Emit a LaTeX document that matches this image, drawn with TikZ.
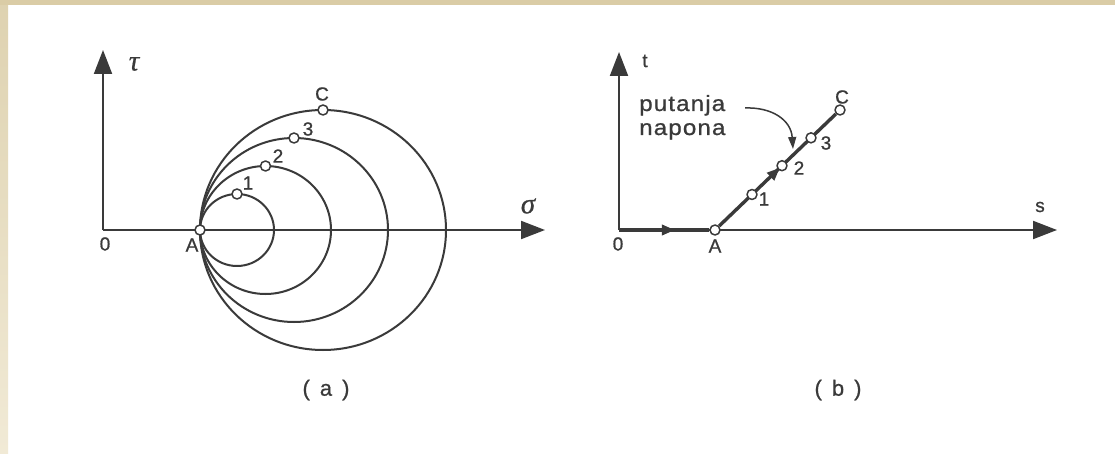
\documentclass[tikz,border=0pt]{standalone}
\usepackage{fontspec}
\setmainfont{Liberation Sans}
\newfontfamily\grkfont{Liberation Serif}
\usetikzlibrary{arrows.meta,decorations.markings,calc}
\definecolor{ink}{RGB}{58,58,58}
\definecolor{beigeTop}{RGB}{218,204,166}
\definecolor{beigeL1}{RGB}{222,210,176}
\definecolor{beigeL2}{RGB}{241,234,214}
\begin{document}
\begin{tikzpicture}[x=1pt,y=-1pt,line join=round,
  axis/.style={draw=ink,line width=2pt,-{Triangle[length=24pt,width=18pt]}},
  curve/.style={draw=ink,line width=2pt},
  spath/.style={draw=ink,line width=3.4pt},
  midarrow/.style={postaction={decorate},decoration={markings,
      mark=at position #1 with {\arrow{Triangle[length=13pt,width=10pt]}}}},
  marker/.style={circle,draw=ink,fill=white,line width=1.5pt,minimum size=10pt,inner sep=0pt},
  lbl/.style={text=ink,font=\fontsize{19}{22}\selectfont\addfontfeature{FakeBold=0.8},inner sep=0pt},
  glbl/.style={text=ink,font=\grkfont\itshape\fontsize{29}{32}\selectfont\addfontfeature{FakeBold=0.6},inner sep=0pt},
  captxt/.style={text=ink,font=\fontsize{22}{26}\selectfont\addfontfeature{FakeBold=0.8},inner sep=0pt},
  note/.style={text=ink,font=\fontsize{22}{26}\selectfont\addfontfeature{LetterSpace=5,FakeStretch=1.1,FakeBold=0.8},inner sep=0pt,anchor=base west},
  thinarrow/.style={draw=ink,line width=1.5pt,-{Triangle[length=12pt,width=8pt]}}]
% background and border
\useasboundingbox (0,0) rectangle (1115,454);
\fill[white] (0,0) rectangle (1115,454);
\shade[top color=beigeL1,bottom color=beigeL2] (0,0) rectangle (8,454);
\fill[beigeTop] (0,0) rectangle (1115,5);

% ---------- (a) ----------
\coordinate (O1) at (103,230);
\coordinate (tauTip) at (103,50);
\coordinate (sigTip) at (545,230);
\draw[curve] (237,230) ellipse [x radius=37pt, y radius=36pt];
\draw[curve] (265.5,230) ellipse [x radius=65.5pt, y radius=64pt];
\draw[curve] (294,230) ellipse [x radius=94pt, y radius=92pt];
\draw[curve] (323,230) ellipse [x radius=123pt, y radius=120pt];
\draw[axis] (O1) -- (tauTip);
\draw[axis] (O1) -- (sigTip);
\node[marker] (A1) at (200,230) {};
\node[marker] (a1) at (237,194) {};
\node[marker] (a2) at (265.5,166) {};
\node[marker] (a3) at (294,138) {};
\node[marker] (aC) at (323,110) {};
\node[glbl] (tau) at (134,64) {τ};
\node[glbl] (sigma) at (528,206) {σ};
\node[lbl] (zeroA) at (105,244) {0};
\node[lbl] (labA1) at (192,245) {A};
\node[lbl] (lab1a) at (248,183) {1};
\node[lbl] (lab2a) at (278,156) {2};
\node[lbl] (lab3a) at (308,129) {3};
\node[lbl] (labCa) at (322,94) {C};
\node[captxt] (capa) at (326,390) {(\hspace{10pt}a\hspace{10pt})};

% ---------- (b) ----------
\coordinate (O2) at (619,230);
\coordinate (tTip) at (619,52);
\coordinate (sTip) at (1057,230);
\draw[axis] (O2) -- (tTip);
\draw[axis] (O2) -- (sTip);
\node[marker] (A2) at (715,230) {};
\node[marker] (C2) at (840,110) {};
\draw[spath,midarrow=0.62] (O2) -- (A2);
\draw[spath,midarrow=0.52] (A2) -- (C2);
\node[marker] (b1) at ($(A2)!0.296!(C2)$) {};
\node[marker] (b2) at ($(A2)!0.536!(C2)$) {};
\node[marker] (b3) at ($(A2)!0.768!(C2)$) {};
\node[lbl] (tlab) at (645,61) {t};
\node[lbl] (slab) at (1040,207) {s};
\node[lbl] (zeroB) at (618,244) {0};
\node[lbl] (labA2) at (715,246) {A};
\node[lbl] (lab1b) at (764,199) {1};
\node[lbl] (lab2b) at (799,168) {2};
\node[lbl] (lab3b) at (826,143) {3};
\node[lbl] (labCb) at (842,97) {C};
\node[note] (put) at (639,111) {putanja};
\node[note] (nap) at (639,135) {napona};
\coordinate (cS) at (745,108);
\coordinate (cE) at (793,149);
\draw[thinarrow] (cS) .. controls (772,107) and (791,120) .. (cE);
\node[captxt] (capb) at (838,390) {(\hspace{10pt}b\hspace{10pt})};
\end{tikzpicture}
\end{document}
